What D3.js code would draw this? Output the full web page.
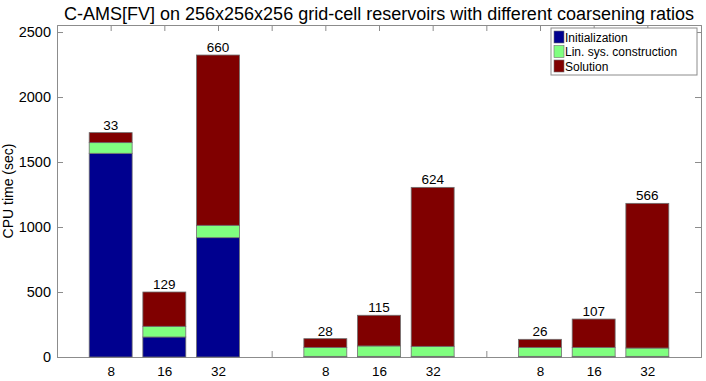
<!DOCTYPE html>
<html>
<head>
<meta charset="utf-8">
<script src="https://cdn.jsdelivr.net/npm/d3@7"></script>
<style>
  body { margin: 0; background: #fff; }
  svg text { font-family: "Liberation Sans", Arial, sans-serif; fill: #000; }
  .axis path, .axis line { stroke: #8c8c8c; }
</style>
</head>
<body>
<div id="chart"></div>
<script>
// bar slots (groups separated by an empty slot) and their tick labels
var slots = [1, 2, 3, 5, 6, 7, 9, 10, 11];
var ratioLabels = ["8", "16", "32", "8", "16", "32", "8", "16", "32"];

// CPU time (sec) per phase
var initialization = [1567, 154, 918, 5, 5, 5, 5, 5, 5];
var linSysConstruction = [82, 82, 95, 69, 80, 77, 69, 69, 64];
var solution = [77, 264, 1310, 67, 236, 1223, 62, 218, 1113];

// numbers printed above the bars
var topLabels = [33, 129, 660, 28, 115, 624, 26, 107, 566];

var seriesNames = ["Initialization", "Lin. sys. construction", "Solution"];
var colors = ["#00008f", "#80ff80", "#800000"];
var yTicks = [0, 500, 1000, 1500, 2000, 2500];

var margin = {top: 25, right: 5, bottom: 24, left: 57},
    width = 706 - margin.left - margin.right,
    height = 381 - margin.top - margin.bottom;

var svg = d3.select("#chart").append("svg")
    .attr("width", 706)
    .attr("height", 381);

var g = svg.append("g")
    .attr("transform", "translate(" + margin.left + "," + margin.top + ")");

var x = d3.scaleLinear().domain([0, 12]).range([0, width]);
var y = d3.scaleLinear().domain([0, 2554]).range([height, 0]);

var data = slots.map(function(s, i) {
  return {slot: s, label: ratioLabels[i], values: [initialization[i], linSysConstruction[i], solution[i]], top: topLabels[i]};
});

var tickPos = d3.range(1, 12);

// axes (ticks pointing inward)
g.append("g")
    .attr("class", "axis")
    .attr("transform", "translate(0," + height + ")")
    .call(d3.axisBottom(x).tickValues(tickPos).tickSize(-6).tickPadding(9)
      .tickFormat(function(d) { var i = slots.indexOf(d); return i < 0 ? "" : ratioLabels[i]; }))
    .call(function(a) { a.selectAll("text").style("font-size", "13.5px"); });

g.append("g")
    .attr("class", "axis")
    .call(d3.axisTop(x).tickValues(tickPos).tickSize(-6).tickFormat(""));

g.append("g")
    .attr("class", "axis")
    .call(d3.axisLeft(y).tickValues(yTicks).tickSize(-6).tickPadding(6).tickFormat(d3.format("d")))
    .call(function(a) { a.selectAll("text").style("font-size", "14.5px"); });

g.append("g")
    .attr("class", "axis")
    .attr("transform", "translate(" + width + ",0)")
    .call(d3.axisRight(y).tickValues(yTicks).tickSize(-6).tickFormat(""));

g.selectAll(".axis path").attr("stroke", "#8c8c8c");

// stacked bars
var barW = (x(1) - x(0)) * 0.8;
data.forEach(function(d) {
  var base = 0;
  d.values.forEach(function(v, k) {
    g.append("rect")
        .attr("x", x(d.slot) - barW / 2)
        .attr("y", y(base + v))
        .attr("width", barW)
        .attr("height", y(base) - y(base + v))
        .attr("fill", colors[k])
        .attr("stroke", "#6e6e6e")
        .attr("stroke-width", 0.8);
    base += v;
  });
  g.append("text")
      .attr("x", x(d.slot))
      .attr("y", y(base) - 3)
      .attr("text-anchor", "middle")
      .style("font-size", "13.5px")
      .text(d.top);
});

// title
svg.append("text")
    .attr("x", margin.left + width / 2)
    .attr("y", 20)
    .attr("text-anchor", "middle")
    .style("font-size", "18px")
    .text("C-AMS[FV] on 256x256x256 grid-cell reservoirs with different coarsening ratios");

// y label
svg.append("text")
    .attr("transform", "translate(13," + (margin.top + height / 2) + ") rotate(-90)")
    .attr("text-anchor", "middle")
    .style("font-size", "14px")
    .text("CPU time (sec)");

// legend
var lg = svg.append("g").attr("transform", "translate(551,28)");
lg.append("rect")
    .attr("width", 146)
    .attr("height", 47)
    .attr("fill", "#fff")
    .attr("stroke", "#8c8c8c");
seriesNames.forEach(function(name, k) {
  lg.append("rect")
      .attr("x", 3)
      .attr("y", 3 + k * 14.5)
      .attr("width", 10)
      .attr("height", 12)
      .attr("fill", colors[k])
      .attr("stroke", "#6e6e6e")
      .attr("stroke-width", 0.6);
  lg.append("text")
      .attr("x", 14)
      .attr("y", 13.5 + k * 14.5)
      .style("font-size", "12px")
      .text(name);
});
</script>
</body>
</html>
